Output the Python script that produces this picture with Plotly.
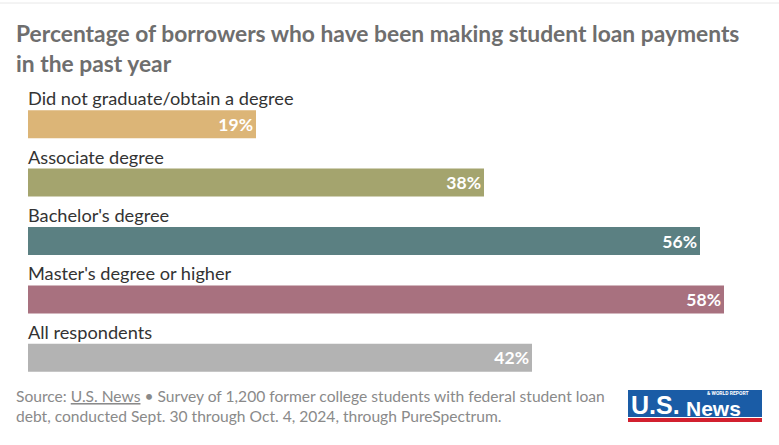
import plotly.graph_objects as go

categories = ["Did not graduate/obtain a degree", "Associate degree", "Bachelor's degree",
              "Master's degree or higher", "All respondents"]
values = [19, 38, 56, 58, 42]
colors = ["#dcb577", "#a4a46e", "#5b8082", "#a8717f", "#b3b3b3"]

W, H = 779, 445
L, R, T, B = 28, 31, 95, 58
PW, PH = W - L - R, H - T - B

def px(x):
    return (x - L) / PW

def py(y):
    return 1 - (y - T) / PH

FONT = "Lato"

fig = go.Figure(go.Bar(
    x=values, y=categories, orientation="h",
    marker=dict(color=colors, line=dict(width=0)),
    text=[f"{v}%" for v in values],
    textposition="inside", insidetextanchor="end",
    textfont=dict(color="white", size=17.5, family=FONT, weight="bold"),
    hoverinfo="skip",
))

ann = []
for c in categories:
    ann.append(dict(x=0, y=c, xref="x", yref="y", text=c, showarrow=False,
                    xanchor="left", yanchor="middle", yshift=26, xshift=-2,
                    font=dict(size=18.2, color="#333333", family=FONT)))

ann.append(dict(x=px(14), y=py(17), xref="paper", yref="paper",
                text="<b>Percentage of borrowers who have been making student loan payments<br>in the past year</b>",
                showarrow=False, xanchor="left", yanchor="top", align="left",
                font=dict(size=22.8, color="#6e6e6e", family=FONT)))
ann.append(dict(x=px(14), y=py(385), xref="paper", yref="paper",
                text="Source: <u>U.S. News</u> • Survey of 1,200 former college students with federal student loan<br>debt, conducted Sept. 30 through Oct. 4, 2024, through PureSpectrum.",
                showarrow=False, xanchor="left", yanchor="top", align="left",
                font=dict(size=15.6, color="#8a8a8a", family=FONT)))
# logo text
ann.append(dict(x=px(629), y=py(405), xref="paper", yref="paper",
                text="<b>U.S.</b>", showarrow=False, xanchor="left", yanchor="middle",
                font=dict(size=25, color="white", family="Liberation Sans")))
ann.append(dict(x=px(684), y=py(408), xref="paper", yref="paper",
                text="<b>News</b>", showarrow=False, xanchor="left", yanchor="middle",
                font=dict(size=21, color="white", family="Liberation Sans")))
ann.append(dict(x=px(728), y=py(392.5), xref="paper", yref="paper",
                text="<b>&amp; WORLD REPORT</b>", showarrow=False, xanchor="center", yanchor="middle",
                font=dict(size=5, color="white", family="Roboto")))

shapes = [
    dict(type="line", xref="paper", yref="paper", x0=px(0), x1=px(W), y0=py(3), y1=py(3),
         line=dict(color="#e8e8e8", width=1)),
    dict(type="rect", xref="paper", yref="paper", x0=px(628), x1=px(762), y0=py(390), y1=py(417),
         fillcolor="#1a5ca6", line=dict(width=0)),
    dict(type="rect", xref="paper", yref="paper", x0=px(628), x1=px(762), y0=py(418), y1=py(422),
         fillcolor="#d2202f", line=dict(width=0)),
]

fig.update_layout(
    width=W, height=H, margin=dict(l=L, r=R, t=T, b=B),
    paper_bgcolor="white", plot_bgcolor="white",
    bargap=0.52, showlegend=False,
    xaxis=dict(range=[0, 60], visible=False, fixedrange=True),
    yaxis=dict(range=[len(categories) - 0.5, -0.5], autorange=False, visible=False, fixedrange=True),
    annotations=ann, shapes=shapes,
    font=dict(family=FONT),
)

fig.write_html("out.html", config={"displayModeBar": False},
               post_script="document.body.style.margin='0';document.body.style.padding='0';")
